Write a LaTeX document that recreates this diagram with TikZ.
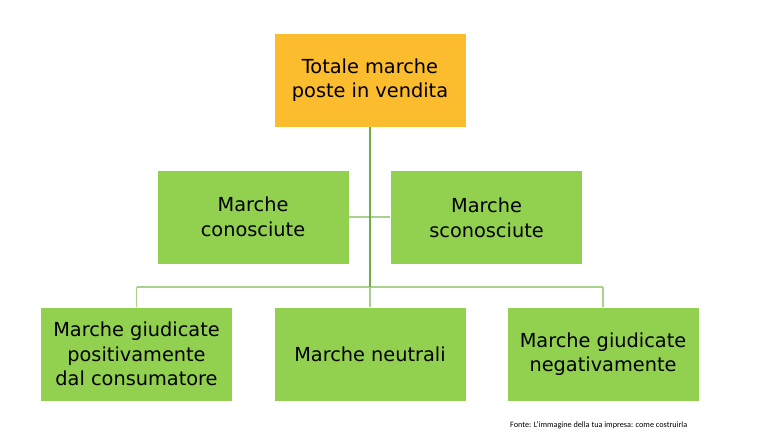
\documentclass[tikz,border=0pt]{standalone}
\usepackage{fontspec}
\setmainfont{DejaVu Sans}
\newfontfamily\notefont{Carlito}
\usetikzlibrary{positioning}
\definecolor{boxgreen}{HTML}{92D050}
\definecolor{boxorange}{HTML}{FBBC2E}
\definecolor{trunkgreen}{HTML}{70AD47}
\definecolor{linkgreen}{HTML}{A9D18E}
\tikzset{
  box/.style={draw=white, line width=0.8pt, fill=boxgreen, minimum width=5.76cm, minimum height=2.82cm,
    align=center, font=\fontsize{16.5}{21}\selectfont, inner sep=0pt},
  trunk/.style={draw=trunkgreen, line width=1.2pt},
  link/.style={draw=linkgreen, line width=0.9pt}
}
\begin{document}
\begin{tikzpicture}[x=0.03cm,y=-0.03cm]
  \useasboundingbox (0,0) rectangle (775,444);

  % Caselle
  \node[box, fill=boxorange] (tot) at (370,80) {Totale marche\\poste in vendita};
  \node[box] (con) at (253,217) {Marche\\conosciute};
  \node[box] (scon) at (486.5,217.5) {Marche\\sconosciute};
  \node[box] (pos) at (136.5,354) {Marche giudicate\\positivamente\\dal consumatore};
  \node[box] (neu) at (370,354) {Marche neutrali};
  \node[box] (neg) at (603,354) {Marche giudicate\\negativamente};

  % Punti di raccordo
  \coordinate (mid) at (370,217);
  \coordinate (bar) at (370,287);
  \coordinate (barL) at (136.5,287);
  \coordinate (barR) at (603,287);

  % Collegamenti
  \draw[link] (con.east) -- (mid) -- (scon.west |- mid);
  \draw[link] (barL) -- (barR);
  \draw[link] (barL) -- (pos.north);
  \draw[link] (bar) -- (neu.north);
  \draw[link] (barR) -- (neg.north);
  \draw[trunk] (tot.south) -- (bar);

  % Fonte
  \node[anchor=west, font=\notefont\fontsize{7}{8}\selectfont] (fonte) at (506,425)
    {Fonte: L’immagine della tua impresa: come costruirla};
\end{tikzpicture}
\end{document}
